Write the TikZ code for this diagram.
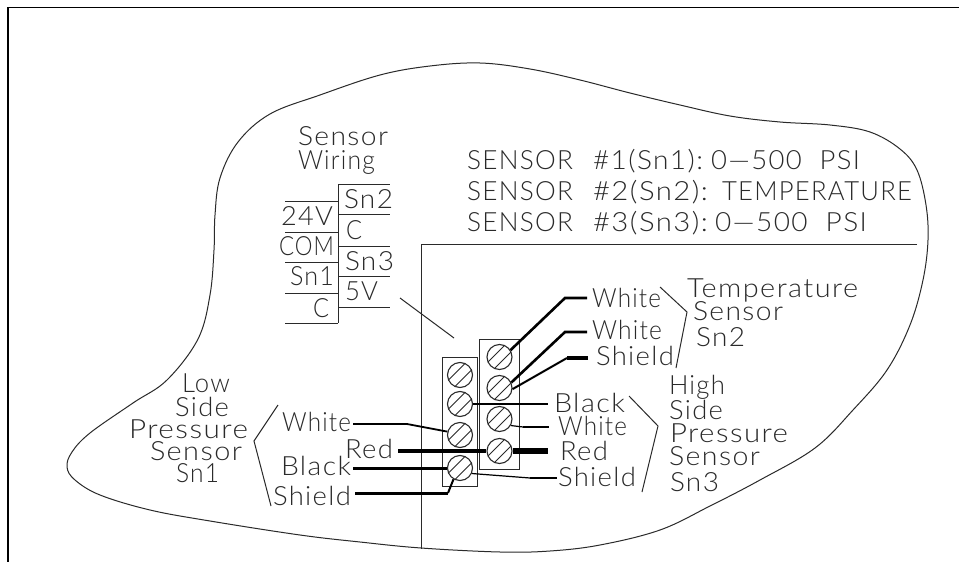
\documentclass[tikz,border=0pt]{standalone}
\usepackage{fontspec}
\setmainfont{Lato Light}[LetterSpace=5]
\definecolor{ink}{HTML}{2A2A2A}
\newsavebox{\fwbox}
\newcommand{\fw}[2]{\sbox{\fwbox}{#2}\pgfmathsetmacro{\fwr}{#1/\the\wd\fwbox}\scalebox{\fwr}[1]{\usebox{\fwbox}}}
\tikzset{
 lbl/.style={anchor=west,inner sep=0pt,outer sep=0pt,text height=19pt,text depth=0pt,font=\fontsize{26.5}{26.5}\selectfont,text=ink},
 thin line/.style={draw=ink,line width=1pt},
 wire/.style={draw=black,line width=2.6pt},
 wirethin/.style={draw=black,line width=1.2pt},
 wirefat/.style={draw=black,line width=4.6pt},
 wirehuge/.style={draw=black,line width=6pt},
 strip/.style={draw=ink,line width=1pt,rectangle,inner sep=0pt},
 screw/.style={circle,draw=ink,line width=1.1pt,minimum size=25pt,inner sep=0pt,fill=white,
  path picture={\draw[ink,line width=.9pt,shift={(path picture bounding box.center)}]
   (-13,6.5)--(6.5,-13) (-6.5,13)--(13,-6.5);}},
}
\begin{document}
\begin{tikzpicture}[x=1pt,y=-1pt]
\useasboundingbox[fill=white] (0,0) rectangle (959,562);
% frame
\draw[black,line width=1.2pt] (959,7.5)--(8,7.5)--(8,562);
% outline
\draw[thin line] plot[smooth cycle,tension=0.6] coordinates {
(270,114)(320,95)(380,75)(430,66)(480,63)(530,69)(580,80)(630,93)(680,105)(730,116)(780,122)(830,125)(870,132)(900,149)(917,170)(926,205)(928,240)(923,280)(910,325)(887,370)(853,410)(815,448)(760,480)(710,506)(660,530)(600,545)(550,551)(500,552)(421,548)(360,542)(300,535)(210,521)(150,510)(100,495)(75,480)(67,467)(72,452)(90,433)(133,403)(167,380)(198,339)(210,295)(214,250)(215,215)(220,178)(238,142)};
% panel lines
\coordinate (pc) at (421,244);
\coordinate (pe) at (917,244);
\coordinate (pb) at (421,549);
\draw[thin line] (pe)--(pc)--(pb);
\coordinate (la) at (400,298);
\coordinate (lb) at (454,338);
\draw[thin line] (la)--(lb);
% wiring table
\coordinate (tt) at (338,184);
\coordinate (tb) at (338,323);
\draw[thin line] (tt)--(tb);
\foreach \y in {184,214,246,276,307} \draw[thin line] (338,\y)--(390,\y);
\foreach \y in {201,232,262,293,323} \draw[thin line] (285,\y)--(338,\y);
\node[lbl] (tsn2) at (344,199) {\fw{49}{Sn2}};
\node[lbl] (tc1) at (346,230) {\fw{16}{C}};
\node[lbl] (tsn3) at (345,261) {\fw{49}{Sn3}};
\node[lbl] (t5v) at (345,291) {\fw{33}{5V}};
\node[lbl] (t24) at (281,216) {\fw{52}{24V}};
\node[lbl] (tcom) at (279,246) {\fw{55}{COM}};
\node[lbl] (tsn1) at (290,276) {\fw{44}{Sn1}};
\node[lbl] (tc2) at (313,308) {\fw{16}{C}};
\node[lbl] (sw1) at (298,136) {\fw{90}{Sensor}};
\node[lbl] (sw2) at (298,160) {\fw{77}{Wiring}};
% header
\node[lbl] (h1a) at (467,160) {\fw{106}{SENSOR}};
\node[lbl] (h1b) at (593,160) {\fw{110}{\#1(Sn1):}};
\node[lbl] (h1c) at (711,160) {\fw{149}{0---500\ \ PSI}};
\node[lbl] (h2a) at (467,191) {\fw{106}{SENSOR}};
\node[lbl] (h2b) at (593,191) {\fw{115}{\#2(Sn2):}};
\node[lbl] (h2c) at (722,191) {\fw{190}{TEMPERATURE}};
\node[lbl] (h3a) at (467,222) {\fw{106}{SENSOR}};
\node[lbl] (h3b) at (593,222) {\fw{115}{\#3(Sn3):}};
\node[lbl] (h3c) at (715,222) {\fw{152}{0---500\ \ PSI}};
% strips
\node[strip,minimum width=35pt,minimum height=129pt] (sl) at (459.5,421.5) {};
\node[strip,minimum width=39.5pt,minimum height=130pt] (sr) at (499.25,404) {};
% screws
\node[screw] (r1) at (499.5,357) {};
\node[screw] (r2) at (499.5,388) {};
\node[screw] (r3) at (499.5,419) {};
\node[screw] (r4) at (499.5,451) {};
\node[screw] (l1) at (460,375) {};
\node[screw] (l2) at (460,404) {};
\node[screw] (l3) at (460,435) {};
\node[screw] (l4) at (460,468) {};
% right labels
\node[lbl] (w1) at (592,298) {\fw{69}{White}};
\node[lbl] (w2) at (592,330) {\fw{70}{White}};
\node[lbl] (s1) at (596,356) {\fw{78}{Shield}};
\node[lbl] (b1) at (554,403) {\fw{71}{Black}};
\node[lbl] (w3) at (558,426) {\fw{69}{White}};
\node[lbl] (r0) at (560,451) {\fw{48}{Red}};
\node[lbl] (s2) at (558,477) {\fw{78}{Shield}};
\node[lbl] (ts1) at (687,288) {\fw{171}{Temperature}};
\node[lbl] (ts2) at (693,311) {\fw{90}{Sensor}};
\node[lbl] (ts3) at (696,337) {\fw{49}{Sn2}};
\node[lbl] (hs1) at (669,385) {\fw{56}{High}};
\node[lbl] (hs2) at (669,410) {\fw{54}{Side}};
\node[lbl] (hs3) at (670,433) {\fw{118}{Pressure}};
\node[lbl] (hs4) at (669,456) {\fw{91}{Sensor}};
\node[lbl] (hs5) at (670,482) {\fw{49}{Sn3}};
% left labels
\node[lbl] (ls1) at (182,383) {\fw{48}{Low}};
\node[lbl] (ls2) at (175,407) {\fw{54}{Side}};
\node[lbl] (ls3) at (129,429) {\fw{119}{Pressure}};
\node[lbl] (ls4) at (150,451) {\fw{92}{Sensor}};
\node[lbl] (ls5) at (176,473) {\fw{43}{Sn1}};
\node[lbl] (lw) at (282,422) {\fw{69}{White}};
\node[lbl] (lr) at (345,449) {\fw{48}{Red}};
\node[lbl] (lk) at (281,466) {\fw{70}{Black}};
\node[lbl] (ld) at (273,496) {\fw{78}{Shield}};
% brackets
\draw[thin line] (660,287)--(687,312)--(676,368);
\draw[thin line] (629,396)--(658,426)--(642,492);
\draw[thin line] (278,405)--(254,441)--(271,506);
% wires
\coordinate (wA) at (587,298); \coordinate (wAb) at (565,298);
\draw[wire] (wA)--(wAb)--(r1.32);
\coordinate (wB) at (587,332); \coordinate (wBb) at (565,332);
\draw[wire] (wB)--(wBb)--(r2.25);
\coordinate (wC) at (588,358); \coordinate (wCb) at (567,358);
\draw[wirefat] (wC)--(wCb);
\draw[line width=2pt,black] (wCb)--(r2.-5);
\coordinate (wD) at (548,404);
\draw[wire,line width=2.2pt] (l2.east)--(wD);
\coordinate (wE) at (523,427); \coordinate (wEe) at (549,427);
\draw[wirethin] (r3.-30)--(wE);
\draw[wire] (wE)--(wEe);
\coordinate (wF) at (398,451); \coordinate (wFe) at (548,451);
\draw[wirefat] (wF)--(r4.west);
\draw[wirehuge] (r4.east)--(wFe);
\coordinate (wG) at (530,478); \coordinate (wGe) at (557,478);
\draw[wirethin] (l4.-25)--(wG);
\draw[wire,line width=1.6pt] (wG)--(wGe);
\coordinate (wH) at (353,424); \coordinate (wHb) at (407,424);
\draw[wire] (wH)--(wHb);
\draw[line width=1.8pt,black] (wHb)--(l3.165);
\coordinate (wI) at (353,468);
\draw[wire,line width=3pt] (wI)--(l4.west);
\coordinate (wJ) at (355,493); \coordinate (wJb) at (448,493);
\draw[wire,line width=3pt] (wJ)--(wJb);
\draw[line width=2pt,black] (wJb)--(l4.-120);
\end{tikzpicture}
\end{document}
